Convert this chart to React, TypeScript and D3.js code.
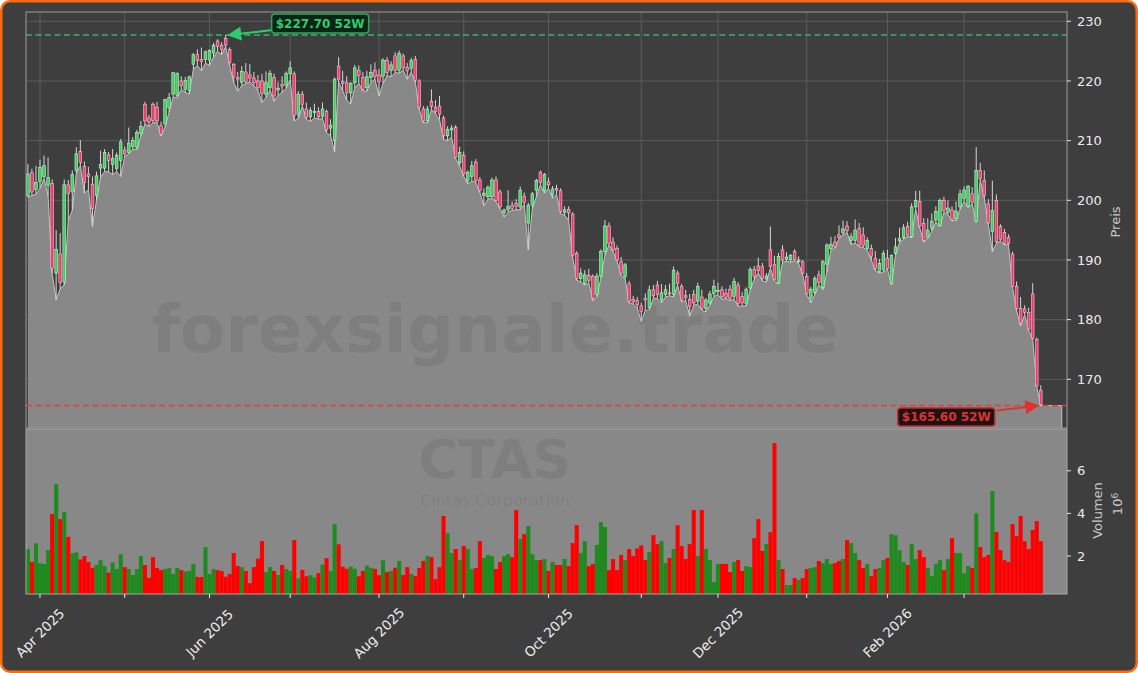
import React from 'react';
import * as d3 from 'd3';

const W = 1138;
const H = 673;

// Trading-day index 0 = 27 Mar 2025 ... 251 = 27 Mar 2026
const OPEN = [
  200.8, 204.6, 201.8, 203.2, 204.0, 202.5, 202.8, 187.8, 191.0, 186.3,
  202.6, 201.4, 205.0, 208.2, 205.7, 204.4, 202.7, 200.8, 205.4, 205.4,
  207.6, 206.0, 205.3, 206.7, 208.4, 208.0, 209.0, 208.9, 211.2, 216.1,
  213.8, 216.1, 215.6, 212.5, 212.8, 215.5, 217.8, 217.6, 220.0, 218.6,
  218.4, 222.8, 224.4, 223.6, 223.6, 223.5, 224.7, 226.7, 226.0, 227.1,
  225.3, 222.8, 220.6, 219.8, 221.5, 221.0, 220.5, 220.0, 220.0, 217.8,
  218.9, 220.6, 218.5, 219.4, 219.3, 221.2, 221.2, 214.4, 217.8, 215.3,
  214.0, 214.7, 214.9, 214.1, 214.9, 212.1, 210.0, 222.5, 219.9, 219.7,
  218.0, 219.7, 221.8, 220.6, 218.9, 220.6, 221.8, 221.0, 220.8, 223.4,
  221.8, 224.2, 221.8, 224.2, 222.3, 222.1, 223.6, 220.0, 215.3, 213.3,
  216.6, 215.6, 215.8, 213.8, 210.8, 211.8, 212.2, 206.3, 207.5, 203.3,
  204.0, 206.4, 203.4, 200.8, 200.6, 200.6, 203.4, 201.4, 197.9, 198.4,
  199.2, 199.5, 198.9, 200.7, 196.2, 199.2, 201.7, 204.7, 201.7, 203.1,
  201.0, 202.0, 201.6, 198.0, 198.5, 197.7, 191.1, 186.9, 186.1, 187.4,
  187.2, 184.2, 187.3, 191.4, 195.7, 193.0, 191.9, 189.7, 187.2, 186.0,
  183.4, 183.2, 182.3, 183.6, 182.0, 185.0, 185.8, 183.3, 184.2, 184.5,
  184.2, 187.8, 185.6, 184.0, 183.4, 184.2, 183.1, 183.8, 181.9, 182.8,
  184.4, 184.7, 185.0, 184.4, 185.1, 183.9, 185.8, 183.9, 182.7, 185.3,
  188.4, 189.0, 188.9, 186.8, 191.7, 189.2, 186.1, 191.7, 190.1, 190.0,
  191.4, 189.7, 189.7, 187.2, 183.6, 184.6, 187.5, 185.4, 189.3, 191.9,
  193.0, 194.2, 194.6, 195.7, 193.3, 193.3, 195.3, 194.2, 191.9, 191.9,
  190.3, 188.1, 188.4, 190.3, 186.1, 191.1, 193.2, 193.8, 195.6, 193.9,
  198.9, 199.8, 196.1, 193.8, 195.3, 196.7, 195.8, 200.0, 198.0, 198.4,
  196.9, 198.9, 200.3, 199.0, 201.1, 196.5, 205.0, 203.3, 199.4, 194.8,
  200.0, 195.6, 194.6, 193.8, 191.0, 185.6, 181.9, 181.8, 181.2, 184.3,
  176.7, 168.1,
];
const HIGH = [
  206.1, 205.3, 205.8, 206.8, 207.5, 207.2, 203.5, 195.0, 194.5, 203.5,
  203.4, 205.0, 208.9, 210.1, 206.5, 205.6, 204.0, 204.8, 208.3, 208.6,
  208.1, 208.6, 208.0, 210.3, 209.0, 212.2, 210.6, 211.8, 213.3, 216.5,
  214.3, 216.4, 216.5, 213.2, 217.0, 218.0, 221.4, 221.4, 220.8, 220.7,
  220.9, 224.7, 225.3, 225.6, 225.1, 225.3, 226.4, 227.0, 226.5, 227.7,
  225.6, 223.0, 221.5, 222.5, 223.0, 222.8, 221.5, 221.0, 221.2, 221.6,
  221.8, 221.2, 219.8, 220.8, 221.6, 223.3, 221.6, 218.3, 218.3, 216.4,
  215.6, 216.2, 215.6, 216.4, 215.2, 213.6, 220.6, 224.0, 221.7, 220.8,
  219.8, 222.7, 222.6, 221.5, 221.7, 222.8, 223.1, 222.0, 223.8, 224.0,
  223.3, 224.8, 225.1, 224.6, 223.0, 223.9, 224.2, 220.3, 215.8, 215.8,
  218.6, 216.8, 217.5, 214.2, 212.4, 212.6, 212.6, 209.0, 208.2, 205.0,
  206.6, 206.9, 203.9, 202.0, 202.5, 203.8, 204.0, 201.8, 198.6, 201.7,
  199.8, 200.2, 202.3, 201.3, 199.6, 201.4, 203.6, 205.0, 204.6, 203.8,
  202.4, 202.6, 202.0, 199.0, 199.0, 198.0, 191.5, 188.6, 188.3, 188.5,
  187.6, 187.8, 191.8, 196.7, 196.3, 193.8, 192.4, 190.5, 189.5, 186.5,
  184.0, 183.8, 182.8, 184.4, 185.7, 185.8, 186.5, 186.0, 185.8, 186.0,
  188.9, 188.2, 186.0, 185.0, 184.3, 185.0, 186.2, 185.0, 183.6, 184.8,
  186.7, 186.2, 185.6, 185.2, 185.8, 187.0, 186.3, 184.6, 185.4, 188.8,
  189.0, 190.4, 189.5, 187.8, 195.6, 190.7, 191.2, 192.5, 191.3, 191.0,
  191.8, 190.6, 190.0, 187.8, 185.5, 187.3, 188.2, 190.0, 192.8, 193.9,
  194.0, 195.8, 196.6, 196.5, 194.5, 196.8, 196.2, 195.5, 193.8, 192.6,
  191.5, 190.2, 191.6, 191.7, 190.9, 193.7, 195.4, 196.0, 196.4, 199.5,
  201.6, 201.6, 197.0, 197.0, 197.8, 199.0, 200.3, 200.6, 200.0, 199.0,
  199.8, 201.8, 202.3, 202.5, 202.2, 208.9, 206.3, 205.0, 200.2, 203.3,
  201.0, 196.0, 195.2, 194.3, 191.4, 186.4, 183.8, 182.4, 182.0, 186.1,
  177.0, 169.0,
];
const LOW = [
  200.5, 200.8, 201.0, 202.0, 203.6, 200.8, 187.8, 183.3, 185.2, 185.8,
  196.6, 198.3, 204.5, 205.8, 201.2, 201.8, 195.6, 200.0, 203.9, 204.8,
  204.8, 204.3, 204.8, 204.0, 207.3, 207.8, 208.6, 208.5, 210.8, 212.8,
  212.4, 213.0, 213.0, 210.8, 212.3, 214.8, 217.3, 217.2, 218.6, 218.1,
  217.8, 222.0, 222.6, 221.7, 223.0, 222.6, 224.0, 225.0, 224.4, 225.8,
  222.6, 219.8, 218.3, 219.2, 219.6, 219.8, 219.2, 218.4, 216.4, 217.2,
  218.4, 216.6, 217.6, 218.1, 218.8, 220.2, 213.3, 213.7, 215.8, 213.6,
  213.2, 213.8, 213.6, 213.7, 211.4, 210.8, 208.1, 219.8, 218.4, 216.8,
  216.2, 218.8, 219.6, 218.3, 218.3, 219.8, 220.3, 217.5, 219.6, 220.9,
  220.7, 221.4, 221.3, 221.8, 220.3, 221.5, 219.8, 215.2, 213.0, 213.0,
  215.2, 214.5, 213.5, 210.2, 210.0, 210.6, 207.0, 205.7, 204.0, 202.8,
  203.2, 203.0, 201.3, 199.1, 200.2, 200.3, 199.8, 198.6, 197.2, 198.0,
  198.3, 198.4, 198.4, 199.3, 191.7, 198.6, 200.6, 202.6, 201.2, 202.0,
  200.4, 201.0, 197.8, 197.5, 196.7, 190.5, 186.6, 186.3, 185.8, 186.1,
  183.2, 183.8, 187.0, 190.8, 192.5, 191.4, 189.8, 187.5, 186.8, 182.8,
  182.6, 182.0, 179.7, 181.6, 181.6, 183.6, 183.5, 182.8, 183.8, 184.0,
  183.8, 185.8, 183.0, 183.2, 180.6, 182.4, 182.6, 181.6, 181.3, 182.4,
  183.9, 184.2, 183.4, 183.5, 183.2, 183.4, 182.2, 182.3, 182.3, 185.0,
  186.8, 187.8, 186.5, 186.3, 188.6, 186.5, 186.0, 189.6, 189.8, 189.6,
  189.9, 189.4, 187.5, 184.2, 182.8, 184.2, 185.8, 185.0, 188.0, 191.6,
  192.0, 193.6, 194.2, 194.6, 192.6, 192.8, 192.2, 192.1, 191.6, 190.0,
  188.2, 187.8, 188.0, 188.5, 185.8, 190.8, 192.9, 193.5, 194.0, 193.7,
  198.5, 195.4, 193.0, 193.6, 194.8, 196.4, 195.6, 198.0, 197.6, 196.6,
  196.6, 198.5, 199.8, 198.8, 199.4, 196.3, 203.4, 200.5, 196.0, 191.4,
  192.8, 193.2, 192.5, 192.6, 185.4, 181.6, 179.0, 180.8, 178.2, 176.7,
  168.8, 165.6,
];
const CLOSE = [
  204.4, 201.4, 203.0, 205.5, 205.8, 203.8, 188.6, 191.8, 186.2, 202.6,
  201.1, 204.3, 207.8, 206.4, 203.0, 204.0, 198.6, 204.1, 206.0, 208.0,
  206.7, 207.0, 207.5, 209.8, 207.8, 209.6, 210.0, 211.4, 212.4, 213.3,
  213.1, 213.4, 213.3, 211.1, 216.9, 217.2, 221.4, 221.3, 219.2, 220.1,
  220.7, 224.4, 223.4, 223.3, 224.9, 225.1, 226.0, 225.8, 225.3, 226.0,
  223.1, 220.7, 220.3, 221.6, 219.9, 220.5, 219.7, 218.9, 217.9, 219.7,
  221.3, 217.5, 218.8, 219.1, 221.3, 222.2, 214.2, 217.8, 216.1, 213.9,
  215.1, 214.9, 214.0, 215.3, 211.8, 212.6, 220.3, 220.3, 219.6, 218.0,
  219.6, 222.2, 220.9, 218.6, 220.7, 221.4, 220.8, 219.9, 223.5, 221.4,
  222.7, 221.8, 224.6, 222.2, 221.7, 223.4, 220.1, 215.6, 213.3, 215.3,
  215.7, 214.9, 214.4, 210.8, 211.9, 212.1, 207.2, 208.0, 204.4, 204.7,
  205.8, 203.3, 201.7, 201.2, 202.2, 203.4, 200.0, 198.9, 198.4, 199.0,
  198.6, 199.0, 201.7, 199.6, 199.2, 201.1, 203.3, 203.0, 204.3, 202.6,
  201.9, 201.7, 198.1, 198.4, 197.9, 190.8, 186.9, 187.8, 187.5, 186.6,
  183.6, 187.3, 191.4, 195.7, 192.8, 191.7, 190.0, 187.8, 189.2, 183.1,
  183.0, 182.5, 181.4, 183.3, 185.0, 184.0, 184.2, 184.5, 185.0, 184.3,
  188.3, 186.1, 183.3, 183.7, 182.2, 182.8, 185.6, 181.9, 183.3, 184.3,
  185.6, 184.9, 183.9, 183.7, 183.6, 186.4, 182.7, 182.8, 185.1, 188.4,
  187.2, 188.2, 186.9, 187.3, 188.9, 186.7, 190.6, 190.0, 190.5, 190.8,
  190.1, 190.0, 187.8, 184.4, 185.1, 186.9, 186.2, 189.7, 192.5, 192.6,
  192.2, 193.8, 195.2, 194.9, 193.9, 195.0, 192.5, 192.4, 193.3, 190.6,
  188.6, 189.4, 191.1, 188.6, 190.8, 192.2, 193.6, 195.4, 194.2, 198.9,
  200.0, 195.7, 193.3, 195.0, 196.5, 198.1, 200.0, 198.3, 198.7, 196.8,
  198.2, 201.1, 201.7, 202.4, 199.7, 205.0, 203.6, 200.8, 196.2, 198.3,
  193.1, 193.5, 192.8, 192.8, 185.6, 181.9, 179.4, 181.2, 178.4, 176.9,
  168.9, 165.8,
];
// Volume in millions
const VOLUME = [
  2.33, 1.72, 2.6, 1.66, 1.63, 2.28, 3.97, 5.38, 3.73, 4.06,
  2.9, 2.13, 2.17, 1.84, 2.0, 1.72, 1.45, 1.58, 1.81, 1.53,
  1.22, 1.7, 1.39, 2.08, 1.48, 1.39, 1.11, 1.39, 2.0, 1.58,
  0.98, 1.95, 1.44, 1.34, 1.39, 1.44, 1.16, 1.44, 1.34, 1.27,
  1.3, 1.63, 1.02, 1.02, 2.42, 1.16, 1.39, 1.34, 1.3, 1.03,
  1.16, 2.14, 1.53, 1.48, 1.3, 0.73, 1.48, 1.88, 2.7, 1.25,
  1.48, 1.3, 1.11, 1.58, 1.39, 1.3, 2.75, 0.95, 1.35, 1.05,
  1.1, 1.0, 1.2, 1.6, 1.9, 1.3, 3.5, 2.55, 1.5, 1.4,
  1.5, 1.4, 1.05, 1.3, 1.55, 1.45, 1.4, 1.1, 1.8, 1.25,
  1.3, 1.45, 1.77, 1.11, 1.48, 1.16, 1.06, 1.44, 1.77, 2.0,
  1.95, 0.92, 1.48, 3.88, 3.08, 2.14, 2.33, 1.81, 2.47, 2.33,
  1.39, 1.44, 2.7, 1.91, 2.05, 2.0, 1.39, 1.72, 2.0, 2.09,
  1.95, 4.16, 2.8, 3.03, 3.41, 2.09, 1.81, 1.81, 1.86, 1.3,
  1.72, 1.58, 1.58, 1.86, 1.53, 2.61, 3.45, 2.14, 2.7, 1.53,
  1.63, 2.52, 3.59, 3.36, 1.34, 1.86, 1.34, 2.05, 1.81, 2.33,
  2.0, 2.36, 2.5, 1.81, 2.19, 2.98, 2.56, 2.7, 1.67, 1.91,
  2.33, 3.45, 2.47, 1.86, 2.56, 4.16, 2.0, 4.16, 2.33, 1.81,
  0.78, 1.63, 1.63, 1.63, 1.25, 1.72, 1.81, 1.3, 1.53, 1.48,
  2.84, 3.73, 2.24, 2.56, 3.12, 7.3, 1.81, 1.39, 0.64, 0.64,
  0.97, 0.88, 0.97, 1.39, 1.44, 1.48, 1.77, 1.67, 1.86, 1.63,
  1.67, 1.77, 1.86, 2.75, 2.61, 2.14, 1.81, 1.44, 1.63, 1.06,
  1.39, 1.44, 1.81, 1.91, 3.03, 2.98, 2.28, 1.72, 1.58, 2.56,
  1.86, 2.28, 1.95, 1.44, 1.06, 1.63, 1.81, 1.34, 1.86, 2.84,
  2.14, 2.14, 1.2, 1.53, 1.44, 4.0, 2.42, 1.95, 2.05, 5.05,
  3.13, 2.28, 1.81, 1.72, 3.5, 2.94, 3.88, 2.7, 2.33, 3.22,
  3.64, 2.7,
];

const MONTH_TICK_IDX = [3, 24, 45, 65, 87, 108, 129, 152, 171, 193, 213, 232];
const MONTH_TICK_LABELS = ['Apr 2025', '', 'Jun 2025', '', 'Aug 2025', '', 'Oct 2025', '', 'Dec 2025', '', 'Feb 2026', ''];
const PRICE_TICKS = [170, 180, 190, 200, 210, 220, 230];
const VOLUME_TICKS = [2, 4, 6];
const HIGH_52W = 227.7;
const LOW_52W = 165.6;
const HIGH_52W_IDX = 49;
const LOW_52W_IDX = 251;

const FONT = 'DejaVu Sans, Verdana, sans-serif';

export default function App() {
  const n = CLOSE.length;
  const L = 26, R = 1067;
  const pTop = 12, pBot = 428, vTop = 429, vBot = 594;
  const x = d3.scaleLinear().domain([-0.47, 257.5]).range([L, R]);
  const y = d3.scaleLinear().domain([161.84, 231.56]).range([pBot, pTop]);
  const yv = d3.scaleLinear().domain([0.22, 7.96]).range([vBot, vTop]);
  const step = x(1) - x(0);

  const idx = d3.range(n);
  const pts: [number, number][] = idx.map((i) => [x(i), y(LOW[i])]);
  pts.push([x(n - 1 + 5.2), y(LOW[n - 1])]);
  const areaGen = d3.area<[number, number]>().x((d) => d[0]).y0(pBot).y1((d) => d[1]);
  const lineGen = d3.line<[number, number]>().x((d) => d[0]).y((d) => d[1]);
  const topLine = [...pts, [x(n - 1 + 5.2), pBot] as [number, number]];

  const up = (i: number) => CLOSE[i] >= OPEN[i];

  const hx = x(HIGH_52W_IDX) + 3;
  const hy = y(HIGH_52W);
  const lx = x(LOW_52W_IDX) - 3;
  const ly = y(LOW_52W);

  return (
    <div style={{ position: 'absolute', left: 0, top: 0 }}>
      <svg width={W} height={H} style={{ display: 'block' }} fontFamily={FONT}>
        <defs>
          <marker id="arrG" viewBox="0 0 10 10" refX="9" refY="5" markerWidth="7" markerHeight="7" orient="auto">
            <path d="M0,0 L10,5 L0,10 z" fill="#2ecc71" />
          </marker>
          <marker id="arrR" viewBox="0 0 10 10" refX="9" refY="5" markerWidth="7" markerHeight="7" orient="auto">
            <path d="M0,0 L10,5 L0,10 z" fill="#e03131" />
          </marker>
          <clipPath id="pclip">
            <rect x={L} y={pTop} width={R - L} height={pBot - pTop} />
          </clipPath>
          <clipPath id="vclip">
            <rect x={L} y={vTop} width={R - L} height={vBot - vTop} />
          </clipPath>
        </defs>
        <rect x={0} y={0} width={W} height={H} fill="#ffffff" />
        <rect x={1.25} y={1.25} width={W - 2.5} height={H - 2.5} rx={9} fill="#3e3e3e" stroke="#ff6a10" strokeWidth={2.5} />

        {/* price panel grid */}
        <g stroke="#5c5c5c" strokeWidth={1}>
          {PRICE_TICKS.map((t) => (
            <line key={'hg' + t} x1={L} x2={R} y1={y(t)} y2={y(t)} />
          ))}
          {MONTH_TICK_IDX.map((t) => (
            <line key={'vg' + t} x1={x(t)} x2={x(t)} y1={pTop} y2={pBot} />
          ))}
        </g>

        {/* low area */}
        <g clipPath="url(#pclip)">
          <path d={areaGen(pts) || ''} fill="#888888" />
          <path d={lineGen(topLine) || ''} fill="none" stroke="#c4c4c4" strokeWidth={1} />
        </g>

        {/* watermark */}
        <text x={495} y={352} textAnchor="middle" fontSize={66} fontWeight="bold" fill="#000" fillOpacity={0.07}>
          forexsignale.trade
        </text>

        {/* 52W high line */}
        <line x1={L} x2={R} y1={hy} y2={hy} stroke="#2ecc71" strokeOpacity={0.85} strokeWidth={1.5} strokeDasharray="6 3.5" />

        {/* candles */}
        <g clipPath="url(#pclip)">
          {idx.map((i) => {
            const cx = x(i);
            const o = y(OPEN[i]);
            const c = y(CLOSE[i]);
            const top = Math.min(o, c);
            const h = Math.max(1, Math.abs(o - c));
            const u = up(i);
            return (
              <g key={'c' + i}>
                <line x1={cx} x2={cx} y1={y(HIGH[i])} y2={y(LOW[i])} stroke="#d6d6d6" strokeWidth={1} />
                <rect
                  x={cx - 1.35}
                  y={top}
                  width={2.7}
                  height={h}
                  fill={u ? '#3fcf5f' : '#ee3d6a'}
                  stroke={u ? '#c9f2d2' : '#f7c3d0'}
                  strokeWidth={0.6}
                />
              </g>
            );
          })}
        </g>

        <line x1={L} x2={R} y1={ly} y2={ly} stroke="#e83a3a" strokeOpacity={0.95} strokeWidth={1.5} strokeDasharray="6 3.5" />

        {/* price frame */}
        <rect x={L} y={pTop} width={R - L} height={pBot - pTop} fill="none" stroke="#9c9c9c" strokeWidth={1} />

        {/* volume panel */}
        <rect x={L} y={vTop} width={R - L} height={vBot - vTop} fill="#888888" />
        <g clipPath="url(#vclip)">
          {idx.map((i) => (
            <rect
              key={'v' + i}
              x={x(i) - step / 2}
              y={yv(VOLUME[i])}
              width={step + 0.05}
              height={vBot - yv(VOLUME[i])}
              fill={up(i) ? '#1f8b1f' : '#ff0000'}
            />
          ))}
        </g>
        <rect x={L} y={vTop} width={R - L} height={vBot - vTop} fill="none" stroke="#a8a8a8" strokeWidth={1} />

        {/* watermark CTAS */}
        <text x={495} y={478} textAnchor="middle" fontSize={54} fontWeight="bold" fill="#000" fillOpacity={0.07}>
          CTAS
        </text>
        <text x={495} y={506} textAnchor="middle" fontSize={16} fill="#000" fillOpacity={0.07}>
          Cintas Corporation
        </text>

        {/* annotations */}
        <line x1={hx + 44} x2={hx} y1={hy - 5} y2={hy} stroke="#2ecc71" strokeWidth={2} markerEnd="url(#arrG)" />
        <rect x={hx + 43} y={hy - 21} width={97} height={19} rx={3} fill="#0c2415" stroke="#2aa85c" strokeWidth={1.5} />
        <text x={hx + 91.5} y={hy - 7.5} textAnchor="middle" fontSize={12} fontWeight="bold" fill="#2ecc71">
          ${HIGH_52W.toFixed(2)} 52W
        </text>

        <line x1={lx - 41} x2={lx} y1={ly + 5} y2={ly} stroke="#e03131" strokeWidth={2} markerEnd="url(#arrR)" />
        <rect x={lx - 140} y={ly + 2.5} width={97} height={18} rx={3} fill="#1c1414" stroke="#c22a2a" strokeWidth={1.5} />
        <text x={lx - 91.5} y={ly + 15.5} textAnchor="middle" fontSize={12} fontWeight="bold" fill="#e03131">
          ${LOW_52W.toFixed(2)} 52W
        </text>

        {/* right price axis */}
        {PRICE_TICKS.map((t) => (
          <g key={'pt' + t}>
            <line x1={R} x2={R + 4} y1={y(t)} y2={y(t)} stroke="#e6e6e6" strokeWidth={1} />
            <text x={R + 10} y={y(t)} dy="0.35em" fontSize={13} fill="#ececec">
              {t}
            </text>
          </g>
        ))}
        <text transform={`translate(1115,${(pTop + pBot) / 2 + 2}) rotate(-90)`} textAnchor="middle" dy="0.35em" fontSize={13} fill="#c8c8c8">
          Preis
        </text>

        {/* right volume axis */}
        {VOLUME_TICKS.map((t) => (
          <g key={'vt' + t}>
            <line x1={R} x2={R + 4} y1={yv(t)} y2={yv(t)} stroke="#e6e6e6" strokeWidth={1} />
            <text x={R + 10} y={yv(t)} dy="0.35em" fontSize={13} fill="#ececec">
              {t}
            </text>
          </g>
        ))}
        <text transform={`translate(1097,${(vTop + vBot) / 2 - 1}) rotate(-90)`} textAnchor="middle" dy="0.35em" fontSize={13} fill="#c8c8c8">
          Volumen
        </text>
        <text transform={`translate(1117,504) rotate(-90)`} textAnchor="middle" dy="0.35em" fontSize={13} fill="#c8c8c8">
          10
          <tspan dy="-0.45em" fontSize={9}>6</tspan>
        </text>

        {/* x axis */}
        {MONTH_TICK_IDX.map((t, k) => (
          <g key={'xt' + t}>
            <line x1={x(t)} x2={x(t)} y1={vBot} y2={vBot + 4} stroke="#e6e6e6" strokeWidth={1} />
            {MONTH_TICK_LABELS[k] ? (
              <text transform={`translate(${x(t)},633) rotate(-45)`} textAnchor="middle" dy="0.35em" fontSize={13.5} fill="#ececec">
                {MONTH_TICK_LABELS[k]}
              </text>
            ) : null}
          </g>
        ))}
      </svg>
    </div>
  );
}
